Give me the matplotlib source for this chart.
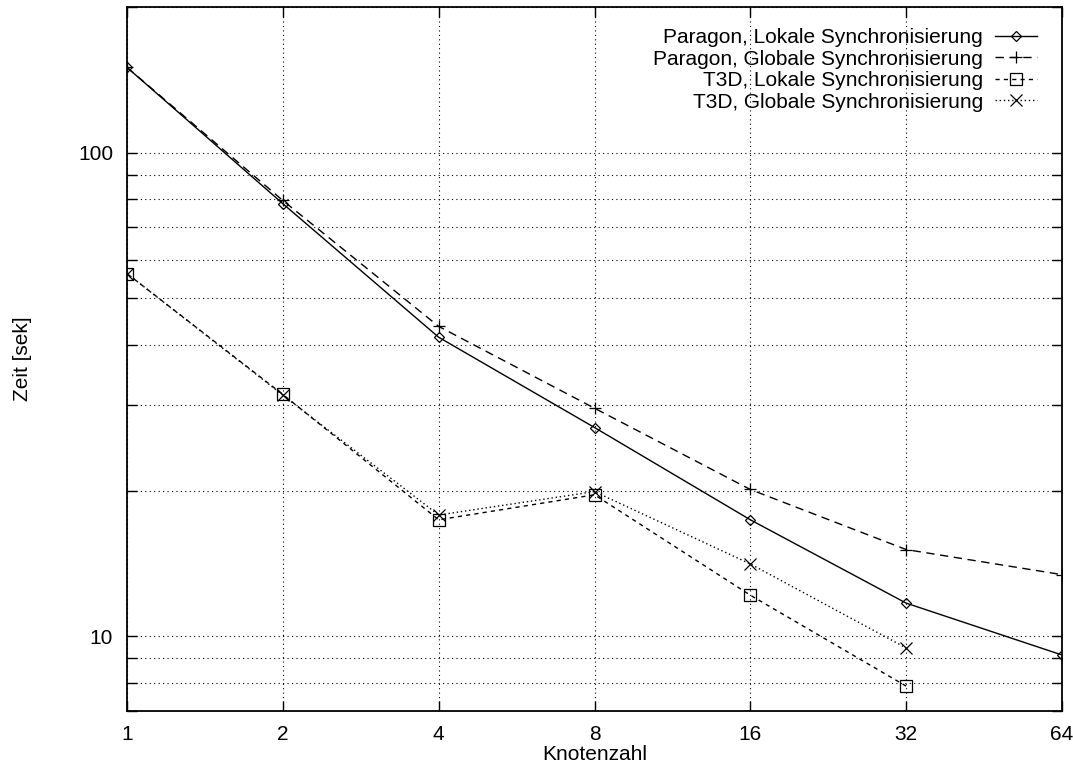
import matplotlib
matplotlib.use("Agg")
import matplotlib.pyplot as plt
from matplotlib.ticker import LogLocator, NullFormatter, FixedLocator, FixedFormatter

plt.rcParams['font.family'] = ['Liberation Sans', 'DejaVu Sans']

knoten = [1, 2, 4, 8, 16, 32, 64]
knoten_t3d = [1, 2, 4, 8, 16, 32]
paragon_lokal = [150, 78.4, 41.5, 27.0, 17.4, 11.7, 9.14]
paragon_global = [150, 79.6, 43.7, 29.6, 20.1, 15.1, 13.4]
t3d_lokal = [56.2, 31.6, 17.4, 19.6, 12.15, 7.88]
t3d_global = [56.2, 31.5, 17.8, 19.9, 14.1, 9.45]

labels = ["Paragon, Lokale Synchronisierung", "Paragon, Globale Synchronisierung",
          "T3D, Lokale Synchronisierung", "T3D, Globale Synchronisierung"]
y_ticks = [10, 100]

fig = plt.figure(figsize=(10.73, 7.65), dpi=100)
ax = fig.add_axes([127/1073, 1 - 711/765, (1062-127)/1073, (711-7)/765])

ax.plot(knoten, paragon_lokal, color='black', lw=1, ls='-', marker='D', ms=5.5,
        mfc='none', mew=0.9, label=labels[0])
ax.plot(knoten, paragon_global, color='black', lw=1, ls=(0, (6, 4)), marker='+', ms=9,
        mew=0.9, label=labels[1])
ax.plot(knoten_t3d, t3d_lokal, color='black', lw=1, ls=(0, (3, 3)), marker='s', ms=8,
        mfc='none', mew=0.9, label=labels[2])
ax.plot(knoten_t3d, t3d_global, color='black', lw=1, ls=(0, (1, 2)), marker='x', ms=8,
        mew=0.9, label=labels[3])

ax.set_xscale('log', base=2)
ax.set_yscale('log')
ax.set_xlim(1, 64)
ax.set_ylim(7, 200)

ax.xaxis.set_major_locator(FixedLocator(knoten))
ax.xaxis.set_major_formatter(FixedFormatter([str(k) for k in knoten]))
ax.xaxis.set_minor_locator(FixedLocator([]))
ax.yaxis.set_major_locator(FixedLocator(y_ticks))
ax.yaxis.set_major_formatter(FixedFormatter([str(v) for v in y_ticks]))
ax.yaxis.set_minor_locator(LogLocator(base=10, subs=[2, 3, 4, 5, 6, 7, 8, 9]))
ax.yaxis.set_minor_formatter(NullFormatter())

ax.tick_params(which='both', direction='in', top=True, right=True, length=7,
               width=1, labelsize=15, pad=10)
ax.grid(True, which='major', axis='x', color='black', ls=(0, (1, 3)), lw=0.8)
ax.grid(True, which='both', axis='y', color='black', ls=(0, (1, 3)), lw=0.8)
for s in ax.spines.values():
    s.set_linewidth(1.3)

ax.set_xlabel("Knotenzahl", fontsize=15, labelpad=1)
ax.set_ylabel("Zeit [sek]", fontsize=15, labelpad=33)

leg = ax.legend(loc='upper right', bbox_to_anchor=(0.9733, 0.970), markerfirst=False,
                frameon=False, fontsize=15, handlelength=2.0, labelspacing=0.12,
                borderpad=0, borderaxespad=0, handletextpad=0.6)

fig.savefig("out.png", dpi=100)
